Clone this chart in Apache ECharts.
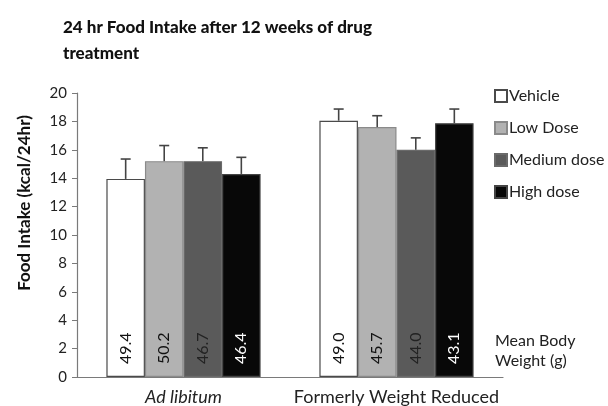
<!DOCTYPE html>
<html>
<head>
<meta charset="utf-8">
<script src="https://cdn.jsdelivr.net/npm/echarts@6/dist/echarts.min.js"></script>
<style>
  html, body { margin: 0; padding: 0; background: #fff; }
  #main { width: 608px; height: 406px; }
</style>
</head>
<body>
<div id="main"></div>
<script>
// 分组和剂量
var groups = ['Ad libitum', 'Formerly Weight Reduced']
var doses = ['Vehicle', 'Low Dose', 'Medium dose', 'High dose']
// 每个剂量的食物摄入 (kcal/24hr)，两个分组
var vehicle = [13.95, 18.05]
var lowDose = [15.2, 17.6]
var mediumDose = [15.2, 16.0]
var highDose = [14.3, 17.87]
// 误差 (SEM)
var vehicleErr = [1.4, 0.82]
var lowDoseErr = [1.1, 0.8]
var mediumDoseErr = [0.94, 0.84]
var highDoseErr = [1.17, 1.0]
// 平均体重 (g)
var vehicleWeight = ['49.4', '49.0']
var lowDoseWeight = ['50.2', '45.7']
var mediumDoseWeight = ['46.7', '44.0']
var highDoseWeight = ['46.4', '43.1']
// y 轴刻度
var yTicks = [0, 2, 4, 6, 8, 10, 12, 14, 16, 18, 20]

var values = [vehicle, lowDose, mediumDose, highDose]
var errors = [vehicleErr, lowDoseErr, mediumDoseErr, highDoseErr]
var weights = [vehicleWeight, lowDoseWeight, mediumDoseWeight, highDoseWeight]
var colors = ['#ffffff', '#b2b2b2', '#5a5a5a', '#080808']
var labelColors = ['#111', '#111', '#222', '#fff']
var borderColors = ['#4a4a4a', '#8a8a8a', '#6a6a6a', '#444']
var barPct = 0.181
var font = 'Lato, "Open Sans", sans-serif'

var myChart = echarts.init(document.getElementById('main'))

var series = doses.map(function (name, i) {
  return {
    name: name,
    type: 'bar',
    data: values[i],
    barWidth: (barPct * 100) + '%',
    barGap: '0%',
    itemStyle: { color: colors[i], borderColor: borderColors[i], borderWidth: 1.2 },
    label: {
      show: true,
      position: 'insideBottom',
      distance: 13,
      rotate: 90,
      align: 'left',
      verticalAlign: 'middle',
      fontFamily: font,
      fontSize: 16,
      color: labelColors[i],
      formatter: function (p) { return weights[i][p.dataIndex] }
    }
  }
})

// 误差线数据
var errData = []
for (var s = 0; s < doses.length; s++) {
  for (var g = 0; g < groups.length; g++) {
    errData.push([g, values[s][g], errors[s][g], s])
  }
}

series.push({
  type: 'custom',
  name: 'err',
  data: errData,
  encode: { x: 0, y: 1 },
  z: 5,
  renderItem: function (params, api) {
    var cat = api.value(0)
    var catW = api.size([1, 0])[0]
    var bw = catW * barPct
    var cx = api.coord([cat, 0])[0] + (api.value(3) - 1.5) * bw
    var base = api.coord([cat, api.value(1)])[1]
    var top = api.coord([cat, api.value(1) + api.value(2)])[1]
    var st = { stroke: '#444', lineWidth: 1.6 }
    return {
      type: 'group',
      children: [
        { type: 'line', shape: { x1: cx, y1: base, x2: cx, y2: top }, style: st },
        { type: 'line', shape: { x1: cx - 5, y1: top, x2: cx + 5, y2: top }, style: st }
      ]
    }
  }
})

var options = {
  animation: false,
  backgroundColor: '#fff',
  title: {
    text: '24 hr Food Intake after 12 weeks of drug\ntreatment',
    left: 58,
    top: 10,
    textStyle: { fontFamily: font, fontSize: 17, fontWeight: 900, color: '#111', lineHeight: 26 }
  },
  legend: {
    data: doses,
    orient: 'vertical',
    left: 494,
    top: 88,
    padding: 0,
    itemWidth: 12,
    itemHeight: 12,
    itemGap: 16,
    icon: 'rect',
    textStyle: { fontFamily: font, fontSize: 16, color: '#222', padding: [0, 0, 0, -3] }
  },
  grid: { left: 77, right: 105, top: 93, bottom: 28 },
  xAxis: {
    type: 'category',
    data: groups,
    axisLine: { lineStyle: { color: '#7a7a7a', width: 1.2 } },
    axisTick: { length: 5, lineStyle: { color: '#7a7a7a' } },
    axisLabel: {
      interval: 0,
      margin: 11,
      fontFamily: font,
      fontSize: 18,
      color: '#222',
      formatter: function (v) { return v === 'Ad libitum' ? '{i|' + v + '}' : v },
      rich: { i: { fontStyle: 'italic', fontFamily: font, fontSize: 18, color: '#222' } }
    }
  },
  yAxis: {
    type: 'value',
    min: yTicks[0],
    max: yTicks[yTicks.length - 1],
    interval: 2,
    axisLine: { show: true, lineStyle: { color: '#7a7a7a', width: 1.2 } },
    axisTick: { show: true, length: 5, lineStyle: { color: '#7a7a7a' } },
    splitLine: { show: false },
    axisLabel: { margin: 10, fontFamily: font, fontSize: 15, color: '#222' }
  },
  graphic: [{
    type: 'text',
    x: 25,
    y: 203,
    rotation: Math.PI / 2,
    style: {
      text: 'Food Intake (kcal/24hr)',
      fontFamily: font,
      fontSize: 17,
      fontWeight: 'bold',
      align: 'center',
      verticalAlign: 'middle',
      fill: '#111'
    }
  }, {
    type: 'text',
    left: 495,
    top: 331,
    style: {
      text: 'Mean Body\nWeight (g)',
      fontFamily: font,
      fontSize: 16,
      lineHeight: 20,
      align: 'right',
      fill: '#222'
    }
  }],
  series: series
}

myChart.setOption(options)
</script>
</body>
</html>
